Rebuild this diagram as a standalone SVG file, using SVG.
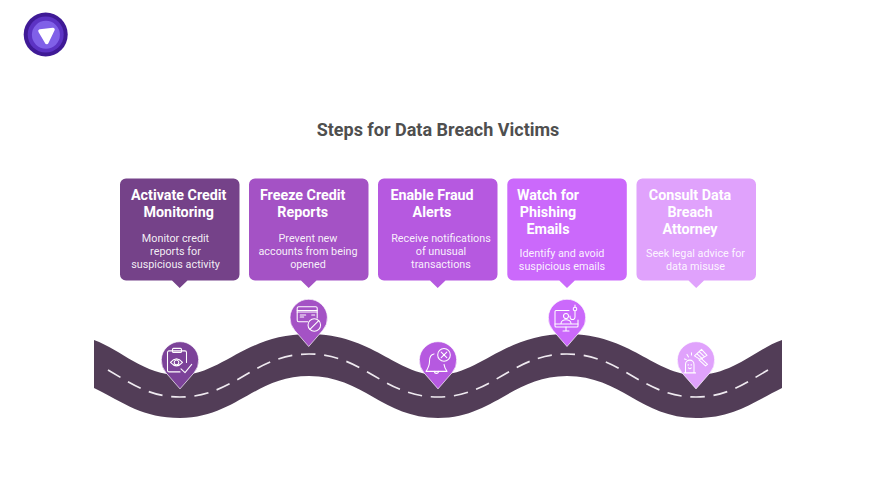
<svg xmlns="http://www.w3.org/2000/svg" width="876" height="493" viewBox="0 0 876 493">
<style>
text{font-family:Roboto,"Liberation Sans",sans-serif;text-anchor:middle}
.title{font-size:18px;font-weight:700;fill:#4f4f4f}
.h{font-size:14.300px;font-weight:700;fill:#fff}
.d{font-size:10.800px;fill:#fff;fill-opacity:.92}
.pin{stroke:#fff;stroke-opacity:.85;stroke-width:.8}
.i{fill:none;stroke:#fff;stroke-width:1.050;stroke-linecap:round;stroke-linejoin:round}
.c1{fill:#754289}.c2{fill:#a452c5}.c3{fill:#b659e0}.c4{fill:#cb69fb}.c5{fill:#e0a2fc}
.p1{fill:#7c4299}
</style>
<defs>
<path id="card" d="M6 0H113.500a6 6 0 0 1 6 6V96a6 6 0 0 1-6 6H67.500L59.700 109.500L52 102H6a6 6 0 0 1-6-6V6a6 6 0 0 1 6-6Z"/>
<path id="pin" d="M0 28.500L-14.100 12.300A18.700 18.700 0 1 1 14.100 12.300Z"/>
</defs>
<rect width="876" height="493" fill="#fff"/>
<g id="logo">
<circle cx="45.700" cy="34.500" r="22" fill="#3f1a96"/>
<circle cx="45.700" cy="34.500" r="18" fill="#5c33c4"/>
<circle cx="45.900" cy="34.800" r="14" fill="#8060e8"/>
<path d="M40 31L53 29.500L46.800 42.500Z" fill="#fff" stroke="#fff" stroke-width="3.500" stroke-linejoin="round"/>
</g>
<text class="title" x="438" y="136">Steps for Data Breach Victims</text>
<g id="connectors">
<path id="road" d="M94 340C122 350 143 375 180 375C222 375 245 334 309 334C373 334 396 375 438 375C480 375 503 334 567 334C631 334 654 375 696 375C733 375 754 350 782 340V388C752 403 733 418 696 418C641 418 621 376 567 376C513 376 493 418 438 418C383 418 363 376 309 376C255 376 235 418 180 418C143 418 124 403 94 388Z" fill="#523d57"/>
<path id="lane" d="M108 370C132 384 150 397 180 397C235 397 254 354 309 354C364 354 383 397 438 397C493 397 512 354 567 354C622 354 641 397 696 397C726 397 744 384 768 370" fill="none" stroke="#efeaf0" stroke-width="1.700" pathLength="30.620" stroke-dasharray=".62 .38"/>
</g>
<g id="node1">
<use href="#card" class="c1" x="120" y="178.500"/>
<text class="h" x="178.700" y="200.400">Activate Credit</text>
<text class="h" x="178.700" y="217.400">Monitoring</text>
<text class="d" x="175.500" y="241.500">Monitor credit</text>
<text class="d" x="175.500" y="254.500">reports for</text>
<text class="d" x="175.500" y="267.500">suspicious activity</text>
<g transform="translate(180 360.400)">
<use href="#pin" class="p1 pin"/>
<g class="i">
<path d="M6.500 2V-8a1.500 1.500 0 0 0-1.500-1.500H-11a1.500 1.500 0 0 0-1.500 1.500V10a1.500 1.500 0 0 0 1.500 1.500H0"/>
<rect x="-7.500" y="-12" width="9" height="4" rx="1"/>
<path d="M-9.500 2Q-3.500-5 2.500 2Q-3.500 9-9.500 2Z"/>
<circle cx="-3.500" cy="2" r="2.300"/>
<path d="M1 8.500L5 12.300L11.700 4"/>
</g>
</g>
</g>
<g id="node2">
<use href="#card" class="c2" x="249" y="178.500"/>
<text class="h" x="302.700" y="200.400">Freeze Credit</text>
<text class="h" x="302.700" y="217.400">Reports</text>
<text class="d" x="308" y="241.500">Prevent new</text>
<text class="d" x="308" y="254.500">accounts from being</text>
<text class="d" x="308" y="267.500">opened</text>
<g transform="translate(308.700 318)">
<use href="#pin" class="c2 pin"/>
<g class="i">
<path d="M-1 3.800H-10a1.500 1.500 0 0 1-1.500-1.500V-9.800a1.500 1.500 0 0 1 1.500-1.500H7a1.500 1.500 0 0 1 1.500 1.500V0"/>
<path d="M-11.500-7.500H8.500M-11.500-6H8.500M-8.500-3H-3M-8.500-1H-5M3-3H6"/>
<circle cx="5.600" cy="7" r="6.300"/>
<path d="M1.200 11.400L10 2.600"/>
</g>
</g>
</g>
<g id="node3">
<use href="#card" class="c3" x="378" y="178.500"/>
<text class="h" x="432" y="200.400">Enable Fraud</text>
<text class="h" x="432" y="217.400">Alerts</text>
<text class="d" x="441" y="241.500">Receive notifications</text>
<text class="d" x="441" y="254.500">of unusual</text>
<text class="d" x="441" y="267.500">transactions</text>
<g transform="translate(438 360.400)">
<use href="#pin" class="c3 pin"/>
<g class="i">
<path d="M-4-6.500C-8-6-8.500-2-8.500 1C-8.500 5-9.500 7-12 11H9C7.500 9 6.500 7 6 4"/>
<path d="M-3.500 11A2 2 0 0 0 0.500 11"/>
<circle cx="6" cy="-5.500" r="6.300"/>
<path d="M3.200-8.300L8.800-2.700M8.800-8.300L3.200-2.700"/>
</g>
</g>
</g>
<g id="node4">
<use href="#card" class="c4" x="507.300" y="178.500"/>
<text class="h" x="548" y="200.400">Watch for</text>
<text class="h" x="548" y="217.400">Phishing</text>
<text class="h" x="548" y="234.400">Emails</text>
<text class="d" x="562" y="257">Identify and avoid</text>
<text class="d" x="562" y="270">suspicious emails</text>
<g transform="translate(567 318)">
<use href="#pin" class="c4 pin"/>
<g class="i">
<path d="M2-7.500H-11a1 1 0 0 0-1 1V8a1 1 0 0 0 1 1H10a1 1 0 0 0 1-1V2"/>
<path d="M-12 6H11M-1 9V12.500M-4 13H2"/>
<circle cx="-1" cy="-2" r="2.500"/>
<path d="M-6 5.500C-6 0.500 4 0.500 4 5.500"/>
<path d="M8-7V-1A2.500 2.500 0 0 1 3-1V-2"/>
<circle cx="8" cy="-9" r="1.800"/>
<path d="M8-13V-11"/>
</g>
</g>
</g>
<g id="node5">
<use href="#card" class="c5" x="636.500" y="178.500"/>
<text class="h" x="690" y="200.400">Consult Data</text>
<text class="h" x="690" y="217.400">Breach</text>
<text class="h" x="690" y="234.400">Attorney</text>
<text class="d" x="695.500" y="257">Seek legal advice for</text>
<text class="d" x="695.500" y="270">data misuse</text>
<g transform="translate(696 360.400)">
<use href="#pin" class="c5 pin"/>
<g class="i">
<path d="M-1.500-4.500L5.500-11L11-5L4-1ZM1-6.500L6.500-1.500M3.500-8.500L8.500-3.500"/>
<path d="M5-2L11.500 4L9.500 5.500L3-0.500"/>
<path d="M-10.500 12V4A4.200 4.200 0 0 1-2 4V12M-12 12.500H-0.500"/>
<path d="M-8 4.500H-7.500M-5 4.500H-4.500M-7.500 7.500Q-6 9-4.800 7.500"/>
<path d="M-9-6L-7.500-3.500M-4.500-7.500L-4.500-5.500M-11.500-1.500L-9.800-1"/>
</g>
</g>
</g>
</svg>
